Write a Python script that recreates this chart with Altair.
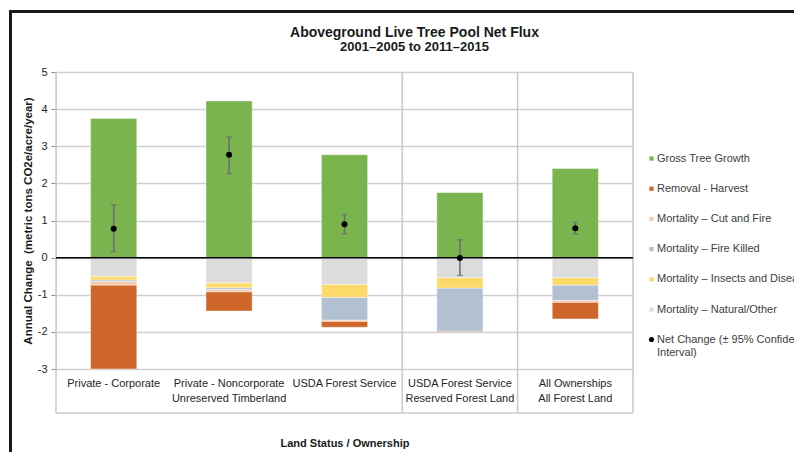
import json
import altair as alt
import pandas as pd

# ---------------- data ----------------
categories = ["Private - Corporate", "Private - Noncorporate", "USDA Forest Service",
              "USDA Forest Service", "All Ownerships"]
groups = ["Unreserved Timberland", "Unreserved Timberland", "Unreserved Timberland",
          "Reserved Forest Land", "All Forest Land"]

components = ["Gross Tree Growth", "Removal - Harvest", "Mortality \u2013 Cut and Fire",
              "Mortality \u2013 Fire Killed", "Mortality \u2013 Insects and Disease",
              "Mortality \u2013 Natural/Other"]
component_colors = ["#79b44f", "#cd6628", "#f8cbad", "#b3c0d1", "#fdd96a", "#dcdcdc"]
# stacking order outward from zero
stack_order = [0, 5, 4, 3, 2, 1]

gross_growth = [3.75, 4.22, 2.77, 1.76, 2.40]
removal_harvest = [-2.26, -0.52, -0.16, -0.02, -0.45]
mort_cut_fire = [-0.10, -0.06, -0.035, 0.0, -0.05]
mort_fire_killed = [-0.04, -0.05, -0.61, -1.16, -0.41]
mort_insects = [-0.10, -0.13, -0.35, -0.28, -0.20]
mort_natural = [-0.50, -0.68, -0.72, -0.54, -0.54]

net_change = [0.78, 2.77, 0.90, -0.01, 0.79]
ci_low = [0.16, 2.26, 0.64, -0.48, 0.64]
ci_high = [1.42, 3.25, 1.16, 0.48, 0.95]

net_label = "Net Change (\u00b1 95% Confidence Interval)"
net_label_lines = ["Net Change (\u00b1 95% Confidence", "Interval)"]

y_ticks = [-3, -2, -1, 0, 1, 2, 3, 4, 5]

title_text = "Aboveground Live Tree Pool Net Flux"
subtitle_text = "2001\u20132005 to 2011\u20132015"
y_title = "Annual Change \u00a0(metric tons CO2e/acre/year)"
x_title = "Land Status / Ownership"

FONT = "Liberation Sans"
W, H = 577, 297

# ---------------- tables ----------------
keys = [f"{c} | {g}" for c, g in zip(categories, groups)]
label_map = {}
for i, k in enumerate(keys):
    members = [j for j, g in enumerate(groups) if g == groups[i]]
    mid = members[len(members) // 2]
    label_map[k] = [categories[i], groups[i] if i == mid else ""]

series = [gross_growth, removal_harvest, mort_cut_fire, mort_fire_killed,
          mort_insects, mort_natural]
rows = []
for comp, vals, order in zip(components, series, stack_order):
    for k, v in zip(keys, vals):
        rows.append({"key": k, "component": comp, "value": v, "order": order})
bars_df = pd.DataFrame(rows)

net_df = pd.DataFrame({"key": keys, "net": net_change, "lo": ci_low, "hi": ci_high,
                       "label": [net_label] * len(keys)})

group_starts = pd.DataFrame({"key": [keys[i] for i in range(len(keys))
                                     if i == 0 or groups[i] != groups[i - 1]]})
group_end = pd.DataFrame({"key": [keys[-1]]})

x_scale = alt.Scale(domain=keys, paddingInner=0, paddingOuter=0)
y_scale = alt.Scale(domain=[-3, 5], nice=False, zero=False)

label_expr = json.dumps(label_map, ensure_ascii=False) + "[datum.value]"

x_axis = alt.Axis(title=x_title, labelExpr=label_expr, ticks=False, domain=False,
                  labelAngle=0, labelAlign="center", labelFont=FONT,
                  labelFontSize=11, labelColor="#262626", labelLineHeight=15,
                  labelPadding=8, labelLimit=300, labelBaseline="top",
                  titleFont=FONT, titleFontSize=11, titleFontWeight="bold",
                  titleColor="#1a1a1a", titleY=74, titleBaseline="middle")

y_axis = alt.Axis(title=y_title, values=y_ticks, labelExpr="toString(datum.value)",
                  labelOverlap=False, labelSeparation=0, labelFlush=False,
                  grid=True, gridColor="#d0d0d0", gridWidth=1.5, domain=False,
                  tickColor="#8c8c8c", tickSize=5, labelFont=FONT,
                  labelFontSize=11, labelColor="#262626", labelPadding=4,
                  titleFont=FONT, titleFontSize=11.5, titleFontWeight="bold",
                  titleColor="#1a1a1a", titleX=-28, titleY=H / 2,
                  titleAngle=-90, titleAlign="center", titleBaseline="middle")

x_band = alt.X("key:N", scale=x_scale, sort=keys, axis=x_axis)

bars = alt.Chart(bars_df).mark_bar(width=alt.RelativeBandSize(0.4), stroke="white",
                                   strokeWidth=0.4).encode(
    x=x_band,
    y=alt.Y("value:Q", scale=y_scale, stack="zero", axis=y_axis),
    color=alt.Color("component:N",
                    scale=alt.Scale(domain=components, range=component_colors),
                    legend=alt.Legend(title=None, orient="none", legendX=590, legendY=81,
                                      symbolType="square", symbolSize=18, symbolStrokeWidth=0,
                                      labelFont=FONT, labelFontSize=11, labelColor="#404040",
                                      labelOffset=0, rowPadding=18.2, padding=0,
                                      labelLimit=400)),
    order=alt.Order("order:Q"),
)

sep_start = alt.Chart(group_starts).mark_rule(color="#c8c8c8", strokeWidth=1.5).encode(
    x=alt.X("key:N", scale=x_scale, sort=keys, bandPosition=0, axis=x_axis),
    y=alt.value(0), y2=alt.value(H + 44),
)
sep_end = alt.Chart(group_end).mark_rule(color="#c8c8c8", strokeWidth=1.5).encode(
    x=alt.X("key:N", scale=x_scale, sort=keys, bandPosition=1, axis=x_axis),
    y=alt.value(0), y2=alt.value(H + 44),
)
bottom_line = alt.Chart(group_end).mark_rule(color="#c8c8c8", strokeWidth=1.5).encode(
    x=alt.value(0), x2=alt.value(W), y=alt.value(H + 44)
)
zero_line = alt.Chart(group_end).mark_rule(color="black", strokeWidth=1.5).encode(
    y=alt.datum(0, scale=y_scale, axis=y_axis)
)
err = alt.Chart(net_df).mark_rule(color="#6d6d6d", strokeWidth=1.5).encode(
    x=x_band, y=alt.Y("lo:Q", scale=y_scale, axis=y_axis), y2="hi:Q",
)
cap_lo = alt.Chart(net_df).mark_tick(color="#6d6d6d", thickness=1.5, size=6).encode(
    x=x_band, y=alt.Y("lo:Q", scale=y_scale, axis=y_axis),
)
cap_hi = alt.Chart(net_df).mark_tick(color="#6d6d6d", thickness=1.5, size=6).encode(
    x=x_band, y=alt.Y("hi:Q", scale=y_scale, axis=y_axis),
)
points = alt.Chart(net_df).mark_point(filled=True, color="black", size=36, opacity=1).encode(
    x=x_band,
    y=alt.Y("net:Q", scale=y_scale, axis=y_axis),
    shape=alt.Shape("label:N", scale=alt.Scale(domain=[net_label], range=["circle"]),
                    legend=alt.Legend(title=None, orient="none", legendX=590, legendY=262,
                                      symbolFillColor="black", symbolStrokeColor="black",
                                      symbolSize=26, labelFont=FONT, labelFontSize=11,
                                      labelColor="#404040", labelOffset=0, padding=0,
                                      labelLimit=400,
                                      labelExpr=json.dumps(net_label_lines, ensure_ascii=False))),
)
border_left = alt.Chart(group_end).mark_rule(color="#1a1a1a", strokeWidth=3).encode(
    x=alt.value(-45.5), y=alt.value(-60.5), y2=alt.value(420)
)
border_top = alt.Chart(group_end).mark_rule(color="#1a1a1a", strokeWidth=3).encode(
    x=alt.value(-47), x2=alt.value(800), y=alt.value(-60.5)
)

chart = alt.layer(
    sep_start, sep_end, bottom_line, bars, zero_line, err, cap_lo, cap_hi, points,
    border_left, border_top
).properties(
    width=W, height=H,
    autosize=alt.AutoSizeParams(type="none"),
    padding={"left": 48, "top": 64, "right": 161, "bottom": 83},
    title=alt.TitleParams(title_text, subtitle=subtitle_text, anchor="middle", dx=70,
                          font=FONT, fontSize=14, fontWeight="bold", color="#1a1a1a",
                          subtitleFont=FONT, subtitleFontSize=13,
                          subtitleFontWeight="bold", subtitleColor="#1a1a1a",
                          subtitlePadding=1, offset=-44),
).configure_view(stroke=None).configure_axisY(labelOverlap=False).configure(
    background="white")

chart.save("out.html", embed_options={"renderer": "svg", "actions": False})
